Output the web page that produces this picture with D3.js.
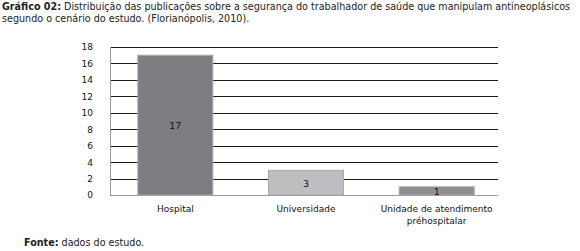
<!DOCTYPE html>
<html><head><meta charset="utf-8">
<script src="https://cdn.jsdelivr.net/npm/d3@7"></script>
<style>body{margin:0;background:#fff}svg{display:block}text{font-family:"DejaVu Sans",Verdana,sans-serif}</style>
</head><body><svg id="c" width="580" height="251"></svg>
<script>
const categories = ["Hospital", "Universidade", "Unidade de atendimento\npréhospitalar"];
const values = [17, 3, 1];
const barColors = ["#7e7e82", "#bebec0", "#8f8f93"];
const yTicks = [0, 2, 4, 6, 8, 10, 12, 14, 16, 18];

const svg = d3.select("#c");
const x0 = 110, x1 = 498, yTop = 47, yBot = 195;
const x = d3.scaleBand().domain(categories).range([x0, x0 + 392]).paddingInner(0.426).paddingOuter(0.213);
const y = d3.scaleLinear().domain([0, 18]).range([yBot, yTop]);

// title
const t = svg.append("text").attr("x", 2).attr("y", 10).attr("font-size", 9.6).attr("fill", "#222");
t.append("tspan").attr("font-weight", "bold").text("Gráfico 02:");
t.append("tspan").text(" Distribuição das publicações sobre a segurança do trabalhador de saúde que manipulam antineoplásicos");
const tw = t.node().getComputedTextLength();
if (tw > 574 || tw < 560) t.attr("textLength", 574).attr("lengthAdjust", "spacingAndGlyphs");
svg.append("text").attr("x", 2).attr("y", 22).attr("font-size", 9.6).attr("fill", "#222")
  .text("segundo o cenário do estudo. (Florianópolis, 2010).");

// gridlines
svg.append("g").selectAll("line").data(yTicks.filter(d => d > 0)).join("line")
  .attr("x1", x0).attr("x2", x1).attr("y1", d => Math.round(y(d)) + 0.5).attr("y2", d => Math.round(y(d)) + 0.5)
  .attr("stroke", "#1a1a1a").attr("stroke-width", 1);

// y axis
const ya = svg.append("g").attr("transform", `translate(${x0},0)`)
  .call(d3.axisLeft(y).tickValues(yTicks).tickSize(0).tickPadding(17));
ya.select(".domain").attr("stroke", "#999").attr("d", `M0.5,${yTop}V${yBot}`);
ya.selectAll("text").attr("font-size", 9).attr("fill", "#111").attr("font-family", '"DejaVu Sans",Verdana,sans-serif');

// baseline
svg.append("line").attr("x1", x0).attr("x2", x1).attr("y1", yBot + 0.5).attr("y2", yBot + 0.5).attr("stroke", "#999");

// bars
svg.append("g").selectAll("rect").data(values).join("rect")
  .attr("x", (d, i) => x(categories[i])).attr("width", x.bandwidth())
  .attr("y", d => y(d)).attr("height", d => yBot - y(d))
  .attr("fill", (d, i) => barColors[i]).attr("stroke", "#a9a9ab").attr("stroke-width", 1);

// value labels
svg.append("g").selectAll("text").data(values).join("text")
  .attr("x", (d, i) => x(categories[i]) + x.bandwidth() / 2)
  .attr("y", d => (y(d) + yBot) / 2 + 4)
  .attr("text-anchor", "middle").attr("font-size", 9.5).attr("fill", "#111").text(d => d);

// x labels
const xl = svg.append("g").selectAll("text").data(categories).join("text")
  .attr("x", d => x(d) + x.bandwidth() / 2).attr("y", 212)
  .attr("text-anchor", "middle").attr("font-size", 9).attr("fill", "#111");
xl.selectAll("tspan").data(d => d.split("\n")).join("tspan")
  .attr("x", function() { return this.parentNode.getAttribute("x"); })
  .attr("dy", (d, i) => i ? 12 : 0).text(d => d);

// footer
const f = svg.append("text").attr("x", 24).attr("y", 246).attr("font-size", 9.6).attr("fill", "#222");
f.append("tspan").attr("font-weight", "bold").text("Fonte:");
f.append("tspan").text(" dados do estudo.");
</script></body></html>
